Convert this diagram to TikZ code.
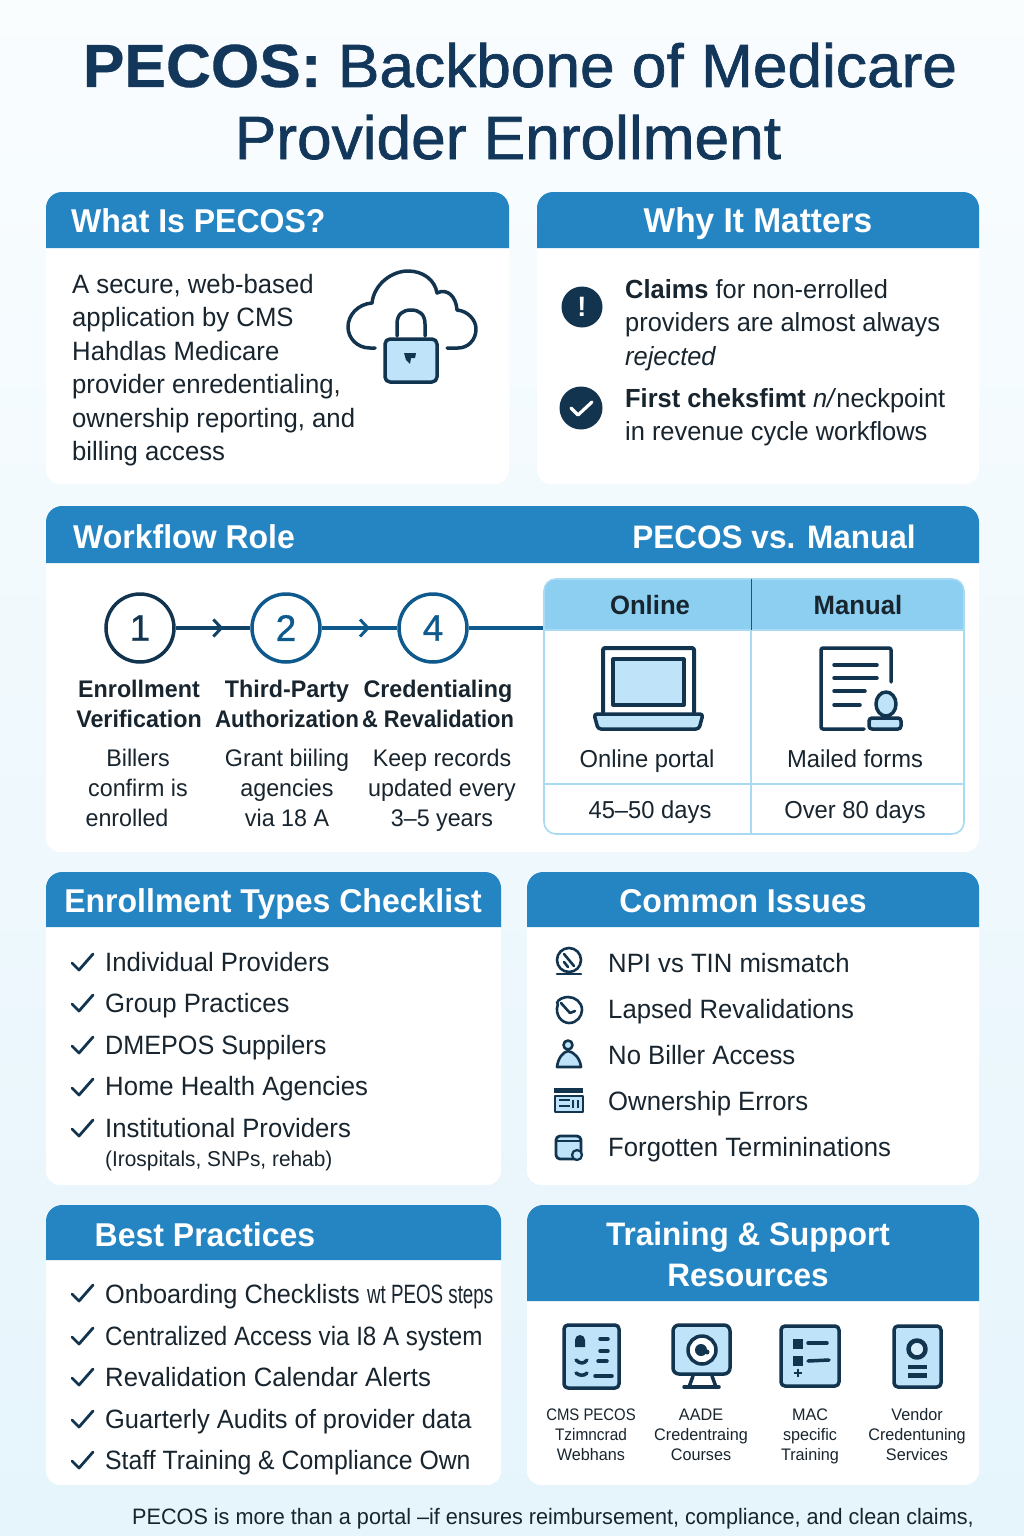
\documentclass[tikz,border=0pt]{standalone}
\usepackage{fontspec}
\usepackage{xcolor}
\usepackage{tikz}
\usetikzlibrary{arrows.meta,decorations.markings}
\setmainfont[FakeStretch=0.97]{Liberation Sans}
\newfontfamily\titlefont[FakeBold=1.1,FakeStretch=1.02]{Liberation Sans}
\newfontfamily\titlebold[FakeBold=0.5,FakeStretch=1.02]{Liberation Sans Bold}
\newfontfamily\medfont[FakeBold=0.9]{Liberation Sans}

\definecolor{hdblue}{HTML}{2585C3}
\definecolor{navy}{HTML}{12344F}
\definecolor{flowblue}{HTML}{0F5A8C}
\definecolor{titlenavy}{HTML}{12375A}
\definecolor{inktxt}{HTML}{18252F}
\definecolor{paleblue}{HTML}{BFE3F9}
\definecolor{skyhead}{HTML}{8CCFF0}
\definecolor{tabline}{HTML}{A9DAF3}

\tikzset{
    panelbox/.style={fill=white, rounded corners=14pt},
    hdbar/.style={fill=hdblue},
    hdtext/.style={text=white, inner sep=0pt, font=\fontsize{33}{36}\selectfont\bfseries},
    bodytxt/.style={text=inktxt, inner sep=0pt, align=left, font=\fontsize{26.5}{33.5}\selectfont},
    listtxt/.style={text=inktxt, inner sep=0pt, anchor=base west, font=\fontsize{26.5}{33}\selectfont},
    stephead/.style={text=inktxt, inner sep=0pt, anchor=north, align=center, font=\fontsize{24}{30}\selectfont\bfseries},
    stepbody/.style={text=inktxt, inner sep=0pt, anchor=north, align=center, font=\fontsize{24}{30}\selectfont},
    tabhead/.style={text=inktxt, inner sep=0pt, font=\fontsize{26.5}{30}\selectfont\bfseries},
    tabtxt/.style={text=inktxt, inner sep=0pt, font=\fontsize{24.5}{28}\selectfont},
    restxt/.style={text=inktxt, inner sep=0pt, anchor=north, align=center, font=\fontsize{16.7}{20}\selectfont},
    stepring/.style={circle, draw=flowblue, line width=3.5pt, fill=white, minimum size=68pt, inner sep=0pt, font=\fontsize{37}{40}\selectfont\medfont},
    flowline/.style={line width=3.5pt, draw=flowblue, postaction={decorate},
        decoration={markings, mark=at position 0.64 with {\arrow[line width=3pt]{Straight Barb[length=8pt,width=17pt]}}}},
    icon/.style={draw=navy, line width=3.5pt, line join=round, line cap=round},
    iconfill/.style={icon, fill=paleblue},
    chk/.pic={\draw[navy, line width=2.8pt, line cap=round, line join=round] (-10,1) -- (-3,8) -- (11,-8);}
}

\begin{document}
\begin{tikzpicture}[x=1pt,y=-1pt]
    \useasboundingbox (0,0) rectangle (1024,1536);
    % Background
    \shade[top color=white!60!skyhead!12, bottom color=skyhead!22] (0,0) rectangle (1024,1536);
    \node[text=titlenavy, inner sep=0pt, anchor=base] (title1) at (520,87) {\fontsize{61}{64}\selectfont{\titlebold PECOS:} \titlefont Backbone of Medicare};
    \node[text=titlenavy, inner sep=0pt, anchor=base] (title2) at (508,159) {\fontsize{61}{64}\selectfont\titlefont Provider Enrollment};

    % Panels
    \fill[panelbox] (46,192) rectangle (509,484);
    \fill[panelbox] (537,192) rectangle (979,484);
    \fill[panelbox] (46,506) rectangle (979,852);
    \fill[panelbox] (46,872) rectangle (501,1185);
    \fill[panelbox] (527,872) rectangle (979,1185);
    \fill[panelbox] (46,1205) rectangle (501,1485);
    \fill[panelbox] (527,1205) rectangle (979,1485);

    % Panel headers
    \fill[hdbar] (46,248) [rounded corners=16pt] -- (46,192) -- (509,192) [sharp corners] -- (509,248) -- cycle;
    \fill[hdbar] (537,248) [rounded corners=16pt] -- (537,192) -- (979,192) [sharp corners] -- (979,248) -- cycle;
    \fill[hdbar] (46,563) [rounded corners=16pt] -- (46,506) -- (979,506) [sharp corners] -- (979,563) -- cycle;
    \fill[hdbar] (46,927) [rounded corners=16pt] -- (46,872) -- (501,872) [sharp corners] -- (501,927) -- cycle;
    \fill[hdbar] (527,927) [rounded corners=16pt] -- (527,872) -- (979,872) [sharp corners] -- (979,927) -- cycle;
    \fill[hdbar] (46,1260) [rounded corners=16pt] -- (46,1205) -- (501,1205) [sharp corners] -- (501,1260) -- cycle;
    \fill[hdbar] (527,1301) [rounded corners=16pt] -- (527,1205) -- (979,1205) [sharp corners] -- (979,1301) -- cycle;
    \node[hdtext, anchor=base west] (whatHead) at (71,232) {What Is PECOS?};
    \node[hdtext, anchor=base, font=\fontsize{34.5}{36}\selectfont\bfseries] (whyHead) at (758,232) {Why It Matters};
    \node[hdtext, anchor=base west] (flowHead) at (73,548) {Workflow Role};
    \node[hdtext, anchor=base, font=\fontsize{32.5}{36}\selectfont\bfseries] (versusHead) at (774,548) {PECOS vs. Manual};
    \node[hdtext, anchor=base] (typesHead) at (273,912) {Enrollment Types Checklist};
    \node[hdtext, anchor=base] (issuesHead) at (743,912) {Common Issues};
    \node[hdtext, anchor=base] (bestHead) at (205,1246) {Best Practices};
    \node[hdtext, anchor=north, align=center, font=\fontsize{32.5}{41}\selectfont\bfseries] (trainHead) at (748,1222) {Training \& Support\\Resources};

    % What Is PECOS
    \node[bodytxt, anchor=north west] (whatTxt) at (72,274) {A secure, web-based\\application by CMS\\Hahdlas Medicare\\provider enredentialing,\\ownership reporting, and\\billing access};
    \draw[icon, fill=none] (375,348) -- (370,348) .. controls (357,348) and (348,338) .. (348,327) .. controls (348,315) and (358,304) .. (372,303) .. controls (374,284) and (392,271) .. (408,271) .. controls (423,271) and (435,280) .. (437,293) .. controls (447,288) and (456,296) .. (457,310) .. controls (468,311) and (476,320) .. (476,329) .. controls (476,340) and (468,348) .. (458,348) -- (447,348);
    \draw[icon] (397,336) -- (397,324) .. controls (397,314) and (403,310) .. (411,310) .. controls (419,310) and (425,314) .. (425,324) -- (425,336);
    \draw[iconfill, rounded corners=5pt] (385,339) rectangle (437,382);
    \fill[navy] (404,353) -- (416,353) -- (415,358) -- (411,358) -- (410,364) -- (406,360) -- cycle;

    % Why It Matters
    \node[circle, fill=navy, minimum size=41pt, inner sep=0pt, text=white, font=\fontsize{28}{30}\selectfont\bfseries] (warnDot) at (582,307) {!};
    \node[circle, fill=navy, minimum size=43pt, inner sep=0pt] (okDot) at (581,408) {};
    \draw[white, line width=3.2pt, line cap=round, line join=round] (571,408) -- (578,415) -- (592,402);
    \node[bodytxt, anchor=north west, font=\fontsize{26.2}{33.5}\selectfont] (whyTxtA) at (625,279) {\textbf{Claims} for non-errolled\\providers are almost always\\\textit{rejected}};
    \node[bodytxt, anchor=north west, font=\fontsize{26.2}{33.5}\selectfont] (whyTxtB) at (625,388) {\textbf{First cheksfimt} \textit{n/}neckpoint\\in revenue cycle workflows};

    % Workflow steps
    \node[stepring, draw=navy, text=navy] (step1) at (140,628) {1};
    \node[stepring, text=flowblue] (step2) at (286,628) {2};
    \node[stepring, text=flowblue] (step4) at (433,628) {4};
    \coordinate (tabEdge) at (544,628);
    \draw[flowline, draw=navy!60!flowblue] (step1) -- (step2);
    \draw[flowline] (step2) -- (step4);
    \draw[line width=3.5pt, draw=flowblue] (step4) -- (tabEdge);
    \node[stephead] (headA) at (139,680) {Enrollment\\Verification};
    \node[stephead] (headB) at (287,680) {Third-Party\\\scalebox{.96}[1]{Authorization}};
    \node[stephead] (headC) at (438,680) {Credentialing\\\scalebox{.94}[1]{\& Revalidation}};
    \node[stepbody] (bodyA) at (138,749) {Billers\\confirm is};
    \node[stepbody] (bodyA2) at (127,809) {enrolled};
    \node[stepbody] (bodyB) at (287,749) {Grant biiling\\agencies\\via 18 A};
    \node[stepbody] (bodyC) at (442,749) {Keep records\\updated every\\3--5 years};

    % Comparison table
    \fill[skyhead] (544,630) [rounded corners=12pt] -- (544,579) -- (964,579) [sharp corners] -- (964,630) -- cycle;
    \draw[tabline, line width=1.6pt, rounded corners=12pt] (544,579) rectangle (964,834);
    \draw[tabline, line width=1.6pt] (544,630) -- (964,630);
    \draw[tabline, line width=1.6pt] (544,784) -- (964,784);
    \draw[tabline, line width=1.6pt] (751,630) -- (751,834);
    \draw[navy!60!hdblue, line width=1pt] (751,579) -- (751,630);
    \node[tabhead] (onHead) at (650,605) {Online};
    \node[tabhead] (manHead) at (858,605) {Manual};
    \node[tabtxt, anchor=base] (onTxt) at (647,767) {Online portal};
    \node[tabtxt, anchor=base] (manTxt) at (855,767) {Mailed forms};
    \node[tabtxt, anchor=base] (onDays) at (650,818) {45--50 days};
    \node[tabtxt, anchor=base] (manDays) at (855,818) {Over 80 days};
    % laptop
    \draw[icon, line width=4pt, rounded corners=2pt] (603,712) -- (603,648) -- (694,648) -- (694,712);
    \draw[iconfill, line width=3.2pt] (613,659) rectangle (684,705);
    \draw[iconfill, rounded corners=3pt] (594,714) -- (703,714) -- (699,729) -- (598,729) -- cycle;
    % form with stamp
    \draw[icon, rounded corners=2pt] (864,729) -- (821,729) -- (821,648) -- (891,648) -- (891,682);
    \draw[icon] (834,665) -- (877,665);
    \draw[icon] (834,678) -- (877,678);
    \draw[icon] (834,691) -- (865,691);
    \draw[icon] (834,705) -- (860,705);
    \draw[iconfill] (886,704) ellipse[x radius=10, y radius=12];
    \draw[iconfill, rounded corners=3pt] (869,718) rectangle (901,729);

    % Enrollment types
    \pic at (82,962) {chk};
    \pic at (82,1003) {chk};
    \pic at (82,1045) {chk};
    \pic at (82,1087) {chk};
    \pic at (82,1128) {chk};
    \node[listtxt] (typeA) at (105,971) {Individual Providers};
    \node[listtxt] (typeB) at (105,1012) {Group Practices};
    \node[listtxt] (typeC) at (105,1054) {\scalebox{.98}[1]{DMEPOS Suppilers}};
    \node[listtxt] (typeD) at (105,1095) {Home Health Agencies};
    \node[listtxt] (typeE) at (105,1137) {Institutional Providers};
    \node[listtxt, font=\fontsize{21.5}{26}\selectfont] (typeF) at (105,1166) {(Irospitals, SNPs, rehab)};

    % Common issues
    \draw[icon, line width=2.6pt] (569,960) circle[radius=12];
    \draw[icon, line width=2.6pt] (564,954) -- (574,966);
    \draw[icon, line width=2.6pt] (564,962) -- (568,967);
    \draw[icon, line width=2.6pt] (557,974) -- (581,974);
    \draw[icon, line width=2.6pt] (558,1004) .. controls (554,1015) and (562,1023) .. (569,1023) .. controls (577,1023) and (582,1016) .. (582,1010) .. controls (582,1002) and (575,997) .. (568,997) .. controls (564,997) and (558,999) .. (557,1003);
    \draw[icon, line width=2.6pt] (561,1003) -- (570,1013) -- (575,1011);
    \draw[iconfill, line width=2.6pt] (557,1067) .. controls (558,1058) and (563,1052) .. (568,1051) .. controls (574,1052) and (580,1058) .. (581,1067) -- cycle;
    \draw[iconfill, line width=2.6pt] (568,1045) circle[radius=4.5];
    \fill[navy] (554,1088) rectangle (583,1093);
    \draw[iconfill, line width=1.6pt] (555,1096) rectangle (583,1112);
    \draw[navy, line width=1.4pt] (559,1100) -- (570,1100) (559,1106) -- (570,1106) (573,1100) -- (573,1108) (578,1100) -- (578,1108);
    \draw[iconfill, line width=2.8pt, rounded corners=4pt] (556,1136) rectangle (581,1159);
    \draw[navy, line width=1.6pt] (556,1141) -- (581,1141);
    \draw[iconfill, line width=2.2pt] (577,1155) circle[radius=5];
    \node[listtxt] (issueA) at (608,972) {NPI vs TIN mismatch};
    \node[listtxt] (issueB) at (608,1018) {Lapsed Revalidations};
    \node[listtxt] (issueC) at (608,1064) {No Biller Access};
    \node[listtxt] (issueD) at (608,1110) {Ownership Errors};
    \node[listtxt] (issueE) at (608,1156) {Forgotten Termininations};

    % Best practices
    \pic at (82,1293) {chk};
    \pic at (82,1336) {chk};
    \pic at (82,1377) {chk};
    \pic at (82,1419) {chk};
    \pic at (82,1460) {chk};
    \node[listtxt] (bestA) at (105,1303) {\scalebox{.985}[1]{Onboarding Checklists} \scalebox{.73}[1]{wt PEOS steps}};
    \node[listtxt] (bestB) at (105,1345) {\scalebox{.94}[1]{Centralized Access via I8 A system}};
    \node[listtxt] (bestC) at (105,1386) {Revalidation Calendar Alerts};
    \node[listtxt] (bestD) at (105,1428) {\scalebox{.99}[1]{Guarterly Audits of provider data}};
    \node[listtxt] (bestE) at (105,1469) {\scalebox{.965}[1]{Staff Training \& Compliance Own}};

    % Training resources
    \draw[iconfill, rounded corners=4pt] (564,1325) rectangle (619,1388);
    \fill[navy] (575,1347) -- (575,1340) arc[start angle=180, end angle=360, radius=5] -- (585,1347) -- cycle;
    \draw[icon] (600,1339) -- (608,1339) (600,1351) -- (608,1351) (598,1361) -- (607,1361);
    \draw[icon] (576,1360) .. controls (580,1364) and (584,1364) .. (587,1360);
    \draw[icon] (576,1373) .. controls (580,1376) and (584,1376) .. (587,1373);
    \draw[icon] (595,1376) -- (612,1376);
    \draw[icon] (693,1376) -- (689,1387) (712,1376) -- (716,1387);
    \draw[icon] (684,1387) -- (719,1387);
    \draw[iconfill, rounded corners=6pt] (673,1325) rectangle (730,1374);
    \draw[icon, fill=white] (702,1350) circle[radius=14];
    \fill[navy] (701,1350) circle[radius=6];
    \fill[navy] (707,1352) circle[radius=2.5];
    \draw[iconfill, rounded corners=4pt] (781,1326) rectangle (839,1386);
    \fill[navy] (793,1339) rectangle (803,1349);
    \fill[navy] (793,1356) rectangle (803,1366);
    \draw[icon] (808,1343) -- (827,1343);
    \draw[icon] (808,1361) -- (829,1360);
    \draw[navy, line width=2pt] (794,1373) -- (802,1373) (798,1369) -- (798,1377);
    \draw[iconfill, rounded corners=4pt] (894,1326) rectangle (941,1387);
    \draw[icon, fill=paleblue!60, line width=4.5pt] (917,1349) circle[radius=8.5];
    \fill[navy] (908,1364.5) rectangle (927,1368.5);
    \fill[navy] (908,1373) rectangle (927,1378);
    \node[restxt] (resA) at (591,1408.5) {\scalebox{.92}[1]{CMS PECOS}\\\scalebox{.95}[1]{Tzimncrad}\\Webhans};
    \node[restxt] (resB) at (701,1408.5) {AADE\\Credentraing\\Courses};
    \node[restxt] (resC) at (810,1408.5) {MAC\\specific\\Training};
    \node[restxt] (resD) at (917,1408) {Vendor\\Credentuning\\Services};

    % Footer
    \node[text=inktxt, inner sep=0pt, anchor=base west, font=\fontsize{22.3}{26}\selectfont] (footTxt) at (132,1524) {PECOS is more than a portal --if ensures reimbursement, compliance, and clean claims,};
\end{tikzpicture}
\end{document}
